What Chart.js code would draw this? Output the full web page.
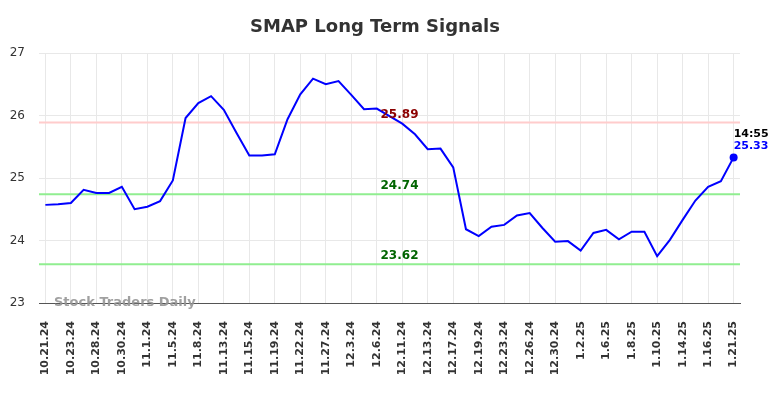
<!DOCTYPE html>
<html>
<head>
<meta charset="utf-8">
<script src="https://cdn.jsdelivr.net/npm/chart.js@4.4.1/dist/chart.umd.min.js"></script>
<style>
  html, body { margin: 0; padding: 0; background: #ffffff; }
  #wrap { width: 784px; height: 398px; }
</style>
</head>
<body>
<div id="wrap"><canvas id="c" width="784" height="398"></canvas></div>
<script>
const dates = [
  '10.21.24','10.22.24','10.23.24','10.25.24','10.28.24','10.29.24','10.30.24','10.31.24',
  '11.1.24','11.4.24','11.5.24','11.7.24','11.8.24','11.12.24','11.13.24','11.14.24',
  '11.15.24','11.18.24','11.19.24','11.21.24','11.22.24','11.26.24','11.27.24','12.2.24',
  '12.3.24','12.5.24','12.6.24','12.10.24','12.11.24','12.12.24','12.13.24','12.16.24',
  '12.17.24','12.18.24','12.19.24','12.20.24','12.23.24','12.24.24','12.26.24','12.27.24',
  '12.30.24','12.31.24','1.2.25','1.3.25','1.6.25','1.7.25','1.8.25','1.9.25',
  '1.10.25','1.13.25','1.14.25','1.15.25','1.16.25','1.17.25','1.21.25'
];
const prices = [
  24.57, 24.58, 24.60, 24.81, 24.76, 24.76, 24.86, 24.50,
  24.54, 24.63, 24.96, 25.96, 26.20, 26.31, 26.09, 25.72,
  25.36, 25.36, 25.38, 25.94, 26.34, 26.59, 26.50, 26.55,
  26.33, 26.10, 26.11, 25.99, 25.87, 25.70, 25.46, 25.47,
  25.17, 24.18, 24.07, 24.22, 24.25, 24.40, 24.44, 24.20,
  23.98, 23.99, 23.84, 24.12, 24.17, 24.02, 24.14, 24.14,
  23.75, 24.01, 24.33, 24.64, 24.86, 24.95, 25.33
];
const resistanceLevels = [25.89];
const supportLevels = [24.74, 23.62];
const yTicks = [23, 24, 25, 26, 27];
const lastTime = '14:55';
const chartTitle = 'SMAP Long Term Signals';
const watermark = 'Stock Traders Daily';

const FONT = "'DejaVu Sans', sans-serif";

const overlayPlugin = {
  id: 'overlay',
  beforeDatasetsDraw(chart) {
    const { ctx, chartArea, scales } = chart;
    const y = scales.y;
    ctx.save();
    ctx.lineWidth = 2;
    resistanceLevels.forEach(v => {
      const py = y.getPixelForValue(v);
      ctx.strokeStyle = '#ffcccc';
      ctx.beginPath(); ctx.moveTo(chartArea.left, py); ctx.lineTo(chartArea.right, py); ctx.stroke();
    });
    supportLevels.forEach(v => {
      const py = y.getPixelForValue(v);
      ctx.strokeStyle = '#90ee90';
      ctx.beginPath(); ctx.moveTo(chartArea.left, py); ctx.lineTo(chartArea.right, py); ctx.stroke();
    });
    // watermark
    ctx.font = 'bold 13px ' + FONT;
    ctx.fillStyle = 'rgba(150,150,150,0.9)';
    ctx.textAlign = 'left';
    ctx.textBaseline = 'middle';
    ctx.fillText(watermark, chartArea.left + 15, chartArea.bottom);
    ctx.restore();
  },
  afterDatasetsDraw(chart) {
    const { ctx, chartArea, scales } = chart;
    const y = scales.y, x = scales.x;
    const cx = (chartArea.left + chartArea.right) / 2 + 10;
    ctx.save();
    // title
    ctx.font = 'bold 18px ' + FONT;
    ctx.fillStyle = '#333333';
    ctx.textAlign = 'center';
    ctx.textBaseline = 'alphabetic';
    ctx.fillText(chartTitle, 375, 31.5);

    ctx.font = 'bold 12px ' + FONT;
    ctx.textAlign = 'center';
    ctx.textBaseline = 'middle';
    resistanceLevels.forEach(v => {
      ctx.fillStyle = '#8b0000';
      ctx.fillText(v.toFixed(2), cx, y.getPixelForValue(v) - 8);
    });
    supportLevels.forEach(v => {
      ctx.fillStyle = '#006400';
      ctx.fillText(v.toFixed(2), cx, y.getPixelForValue(v) - 8);
    });
    const li = prices.length - 1;
    const px = x.getPixelForValue(li);
    const py = y.getPixelForValue(prices[li]);
    ctx.font = 'bold 11px ' + FONT;
    ctx.textAlign = 'left';
    ctx.fillStyle = '#000000';
    ctx.fillText(lastTime, px, py - 23.5);
    ctx.fillStyle = '#0000ff';
    ctx.fillText(prices[li].toFixed(2), px, py - 11);
    ctx.restore();
  }
};

new Chart(document.getElementById('c'), {
  type: 'line',
  data: {
    labels: dates,
    datasets: [{
      data: prices,
      borderColor: '#0000ff',
      backgroundColor: '#0000ff',
      borderWidth: 2,
      tension: 0,
      fill: false,
      pointRadius: ctx => ctx.dataIndex === prices.length - 1 ? 4 : 0,
      pointHoverRadius: 0,
      pointBackgroundColor: '#0000ff',
      pointBorderWidth: 0
    }]
  },
  options: {
    responsive: false,
    animation: false,
    devicePixelRatio: 1,
    layout: { padding: { left: 0, right: 44, top: 53, bottom: 0 } },
    plugins: {
      legend: { display: false },
      tooltip: { enabled: false },
      title: { display: false }
    },
    scales: {
      x: {
        offset: true,
        grid: {
          drawTicks: false,
          color: ctx => (ctx.index % 2 === 0 ? '#e8e8e8' : 'rgba(0,0,0,0)'),
          lineWidth: 1
        },
        border: { display: true, color: '#555555', width: 1 },
        ticks: {
          autoSkip: false,
          maxRotation: 90,
          minRotation: 90,
          padding: 18,
          color: '#333333',
          font: { family: FONT, size: 11, weight: 'bold' },
          callback: function(val, i) { return i % 2 === 0 ? dates[i] : ''; }
        },
        afterFit: s => { s.height = 95; }
      },
      y: {
        min: yTicks[0],
        max: yTicks[yTicks.length - 1],
        afterBuildTicks: s => { s.ticks = yTicks.map(v => ({ value: v })); },
        grid: { drawTicks: false, color: '#e8e8e8', lineWidth: 1 },
        border: { display: false },
        ticks: {
          padding: 14,
          color: '#333333',
          font: { family: FONT, size: 12 }
        },
        afterFit: s => { s.width = 39; }
      }
    }
  },
  plugins: [overlayPlugin]
});
</script>
</body>
</html>
